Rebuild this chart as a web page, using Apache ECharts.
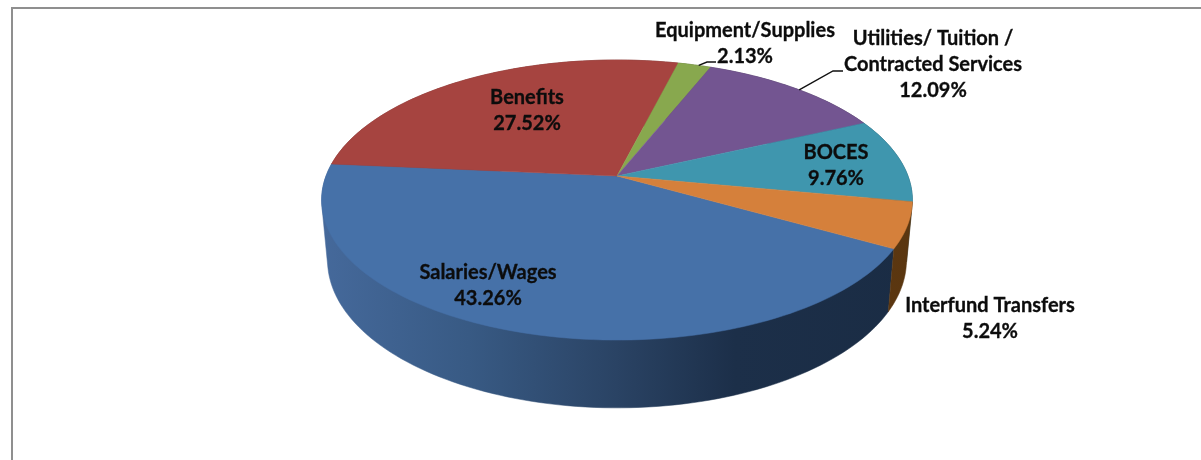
<!DOCTYPE html>
<html>
<head>
<meta charset="utf-8">
<style>
  html, body { margin: 0; padding: 0; background: #fff; }
  #chart { width: 1201px; height: 460px; }
</style>
<script src="https://cdn.jsdelivr.net/npm/echarts@6/dist/echarts.min.js"></script>
</head>
<body>
<div id="chart"></div>
<script>
// Expense shares, in the order they run clockwise round the pie.
const categories = ['Salaries/Wages', 'Benefits', 'Equipment/Supplies',
  'Utilities/ Tuition /\nContracted Services', 'BOCES', 'Interfund Transfers'];
const shares = [43.26, 27.52, 2.13, 12.09, 9.76, 5.24];

// Colours of the top face of each slice.
const topColors = ['#4671a8', '#a64440', '#88a84e', '#735591', '#3f96ae', '#d5803b'];

// Horizontal shading of the outer wall: [offset, colour] stops for each slice.
const wallStops = [
  [[0, '#45699b'], [0.25, '#385a84'], [0.5, '#2a4364'], [0.7, '#1c2f49'], [1, '#1a2c44']],
  [[0, '#7a2f2c'], [1, '#5a2220']],
  [[0, '#5f7636'], [1, '#465727']],
  [[0, '#503a66'], [1, '#3b2b4c']],
  [[0, '#2b6a7c'], [1, '#1f4f5d']],
  [[0, '#74450f'], [1, '#5a3610']]
];

// Label centres in page pixels; the leader bends belong to the two outside labels.
const labelCenters = [[488, 286], [527, 111], [745, 44], [933, 65], [836, 166], [990, 319]];
const leaderBends = [null, null, [[707, 62], [716, 62]], [[833, 71], [843, 71]], null, null];

// Perspective view of the disc: the lower rim sits further away, so it is slightly smaller.
const APEX_X = 617, APEX_Y = 176;
const RADIUS_X = 291, RADIUS_Y = 135.9;
const TILT = 0.1716, DEPTH = 58.9, LOW_SCALE = 0.98;
const START_ANGLE = 29.4; // degrees, clockwise from the right-hand side

function project(deg, lower) {
  const a = deg * Math.PI / 180;
  const u = Math.cos(a), v = Math.sin(a);
  const w = 1 - TILT * v;
  const s = lower ? LOW_SCALE : 1;
  return [APEX_X + s * RADIUS_X * u / w, APEX_Y + (s * RADIUS_Y * v + (lower ? DEPTH : 0)) / w];
}

function arcPoints(from, to, lower) {
  const steps = Math.max(2, Math.ceil((to - from) / 1.5));
  const pts = [];
  for (let i = 0; i <= steps; i++) pts.push(project(from + (to - from) * i / steps, lower));
  return pts;
}

// Outer envelope of a wall, so its silhouette runs straight between the two rims.
function convexHull(points) {
  const p = points.slice().sort((a, b) => a[0] - b[0] || a[1] - b[1]);
  const cross = (o, a, b) => (a[0] - o[0]) * (b[1] - o[1]) - (a[1] - o[1]) * (b[0] - o[0]);
  const half = list => {
    const out = [];
    for (const q of list) {
      while (out.length > 1 && cross(out[out.length - 2], out[out.length - 1], q) <= 0) out.pop();
      out.push(q);
    }
    out.pop();
    return out;
  };
  return half(p).concat(half(p.slice().reverse()));
}

const total = shares.reduce((a, b) => a + b, 0);

function renderSlice(params, api) {
  const i = params.dataIndex;
  const value = api.value(0);
  let from = START_ANGLE;
  for (let k = 0; k < i; k++) from += shares[k] / total * 360;
  const to = from + value / total * 360;

  const rim = arcPoints(from, to, false);
  const rimLow = arcPoints(from, to, true);
  const wallFill = new echarts.graphic.LinearGradient(321, 0, 912, 0,
    wallStops[i].map(s => ({ offset: s[0], color: s[1] })), true);

  const children = [
    {
      type: 'polygon', z2: 1,
      shape: { points: convexHull(rim.concat(rimLow)) },
      style: { fill: wallFill, stroke: wallFill, lineWidth: 0.5 }
    },
    {
      type: 'polygon', z2: 10,
      shape: { points: [[APEX_X, APEX_Y]].concat(rim) },
      style: { fill: topColors[i], stroke: topColors[i], lineWidth: 0.5 }
    },
    {
      type: 'text', z2: 30,
      x: labelCenters[i][0], y: labelCenters[i][1],
      style: {
        text: categories[i] + '\n' + value.toFixed(2) + '%',
        font: 'bold 20px Lato, "Open Sans", sans-serif',
        lineHeight: 26, fill: '#0c0c0c', stroke: '#0c0c0c', lineWidth: 0.3,
        align: 'center', verticalAlign: 'middle'
      }
    }
  ];
  if (leaderBends[i]) {
    children.push({
      type: 'polyline', z2: 20,
      shape: { points: [project((from + to) / 2 + 1, false)].concat(leaderBends[i]) },
      style: { fill: 'none', stroke: '#111', lineWidth: 1.4 }
    });
  }
  return { type: 'group', children };
}

const chart = echarts.init(document.getElementById('chart'), null, { renderer: 'canvas' });
chart.setOption({
  animation: false,
  backgroundColor: '#fff',
  graphic: [{
    type: 'polyline', silent: true,
    shape: { points: [[12, 460], [12, 8], [1201, 8]] },
    style: { fill: 'none', stroke: '#8f8f8f', lineWidth: 2 }
  }],
  series: [{
    type: 'custom',
    coordinateSystem: 'none',
    silent: true,
    renderItem: renderSlice,
    data: shares.map(v => [v])
  }]
});
</script>
</body>
</html>
